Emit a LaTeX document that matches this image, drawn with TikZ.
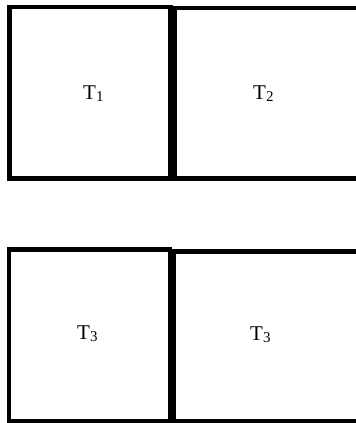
\documentclass[tikz,border=0pt]{standalone}
\usepackage{fontspec}
\setmainfont{Liberation Serif}
\tikzset{
  cell/.style={draw=black, line width=4.6pt},
  lbl/.style={anchor=base west, inner sep=0pt, font=\fontsize{21}{21}\selectfont},
}
\newcommand{\sublbl}[1]{\raisebox{-2pt}{\fontsize{15}{15}\selectfont #1}}
\begin{document}
\begin{tikzpicture}[x=1pt,y=-1pt]
\useasboundingbox (0,0) rectangle (356,423);
\clip (0,0) rectangle (356,423);
\fill[white] (0,0) rectangle (356,423);
% top row
\draw[cell] (9.5,7) rectangle (170.5,178.5);
\draw[cell] (174.5,8) rectangle (370,178.5);
% bottom row
\draw[cell] (9,249.7) rectangle (169.8,421.6);
\draw[cell] (173.8,251.2) rectangle (370,421.6);
\node[lbl] (t1) at (83,99) {T\sublbl{1}};
\node[lbl] (t2) at (253,99) {T\sublbl{2}};
\node[lbl] (t3a) at (77,339) {T\sublbl{3}};
\node[lbl] (t3b) at (250,340) {T\sublbl{3}};
\end{tikzpicture}
\end{document}
